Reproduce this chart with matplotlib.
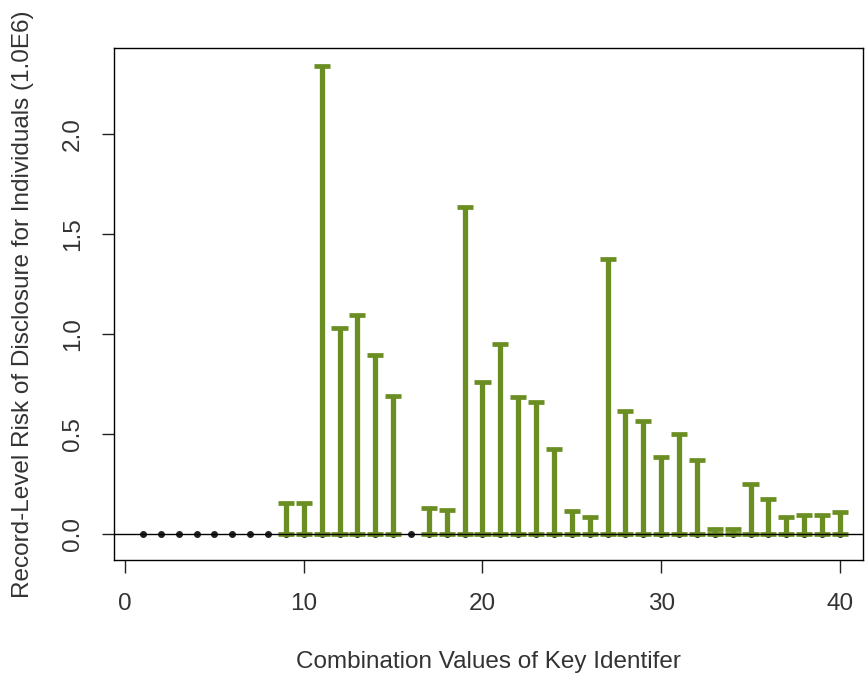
import matplotlib

matplotlib.use("Agg")

import matplotlib.pyplot as plt

plt.rcParams["font.family"] = ["Liberation Sans", "DejaVu Sans"]

key_values = list(range(1, 41))
risk = [
    0, 0, 0, 0, 0, 0, 0, 0, 0.155, 0.155,
    2.338, 1.03, 1.097, 0.897, 0.692, 0, 0.13, 0.118, 1.633, 0.762,
    0.95, 0.683, 0.658, 0.425, 0.117, 0.083, 1.375, 0.617, 0.567, 0.383,
    0.50, 0.37, 0.025, 0.025, 0.25, 0.175, 0.083, 0.095, 0.095, 0.112,
]
x_ticks = [0, 10, 20, 30, 40]
y_ticks = [0.0, 0.5, 1.0, 1.5, 2.0]

green = "#6b8e23"
cap = 0.45

fig = plt.figure(figsize=(8.65, 6.76), dpi=100)
ax = fig.add_axes([0.1318, 0.1716, 0.866, 0.7574])

ax.plot(key_values, [0] * len(key_values), "o", color="#222222", ms=4, zorder=2)
for x, y in zip(key_values, risk):
    if y <= 0:
        continue
    ax.vlines(x, 0, y, color=green, lw=3.8, zorder=3)
    ax.hlines([0, y], x - cap, x + cap, color=green, lw=3.4, zorder=3)
ax.axhline(0, color="black", lw=1.0, zorder=4)

ax.set_xlim(-0.62, 41.3)
ax.set_ylim(-0.13, 2.43)
ax.set_xticks(x_ticks)
ax.set_yticks(y_ticks)
ax.set_yticklabels([f"{v:.1f}" for v in y_ticks], rotation=90, va="center")
ax.tick_params(axis="both", length=9, width=1.0, labelsize=17.5, color="#222222", labelcolor="#333333")
ax.tick_params(axis="x", pad=15)
ax.tick_params(axis="y", pad=12.5)
for s in ax.spines.values():
    s.set_linewidth(1.0)

ax.set_xlabel("Combination Values of Key Identifer", fontsize=17.5, color="#333333", labelpad=26)
ax.set_ylabel("Record-Level Risk of Disclosure for Individuals (1.0E6)", fontsize=17.5,
              color="#333333", labelpad=20)

fig.savefig("out.png", dpi=100)
